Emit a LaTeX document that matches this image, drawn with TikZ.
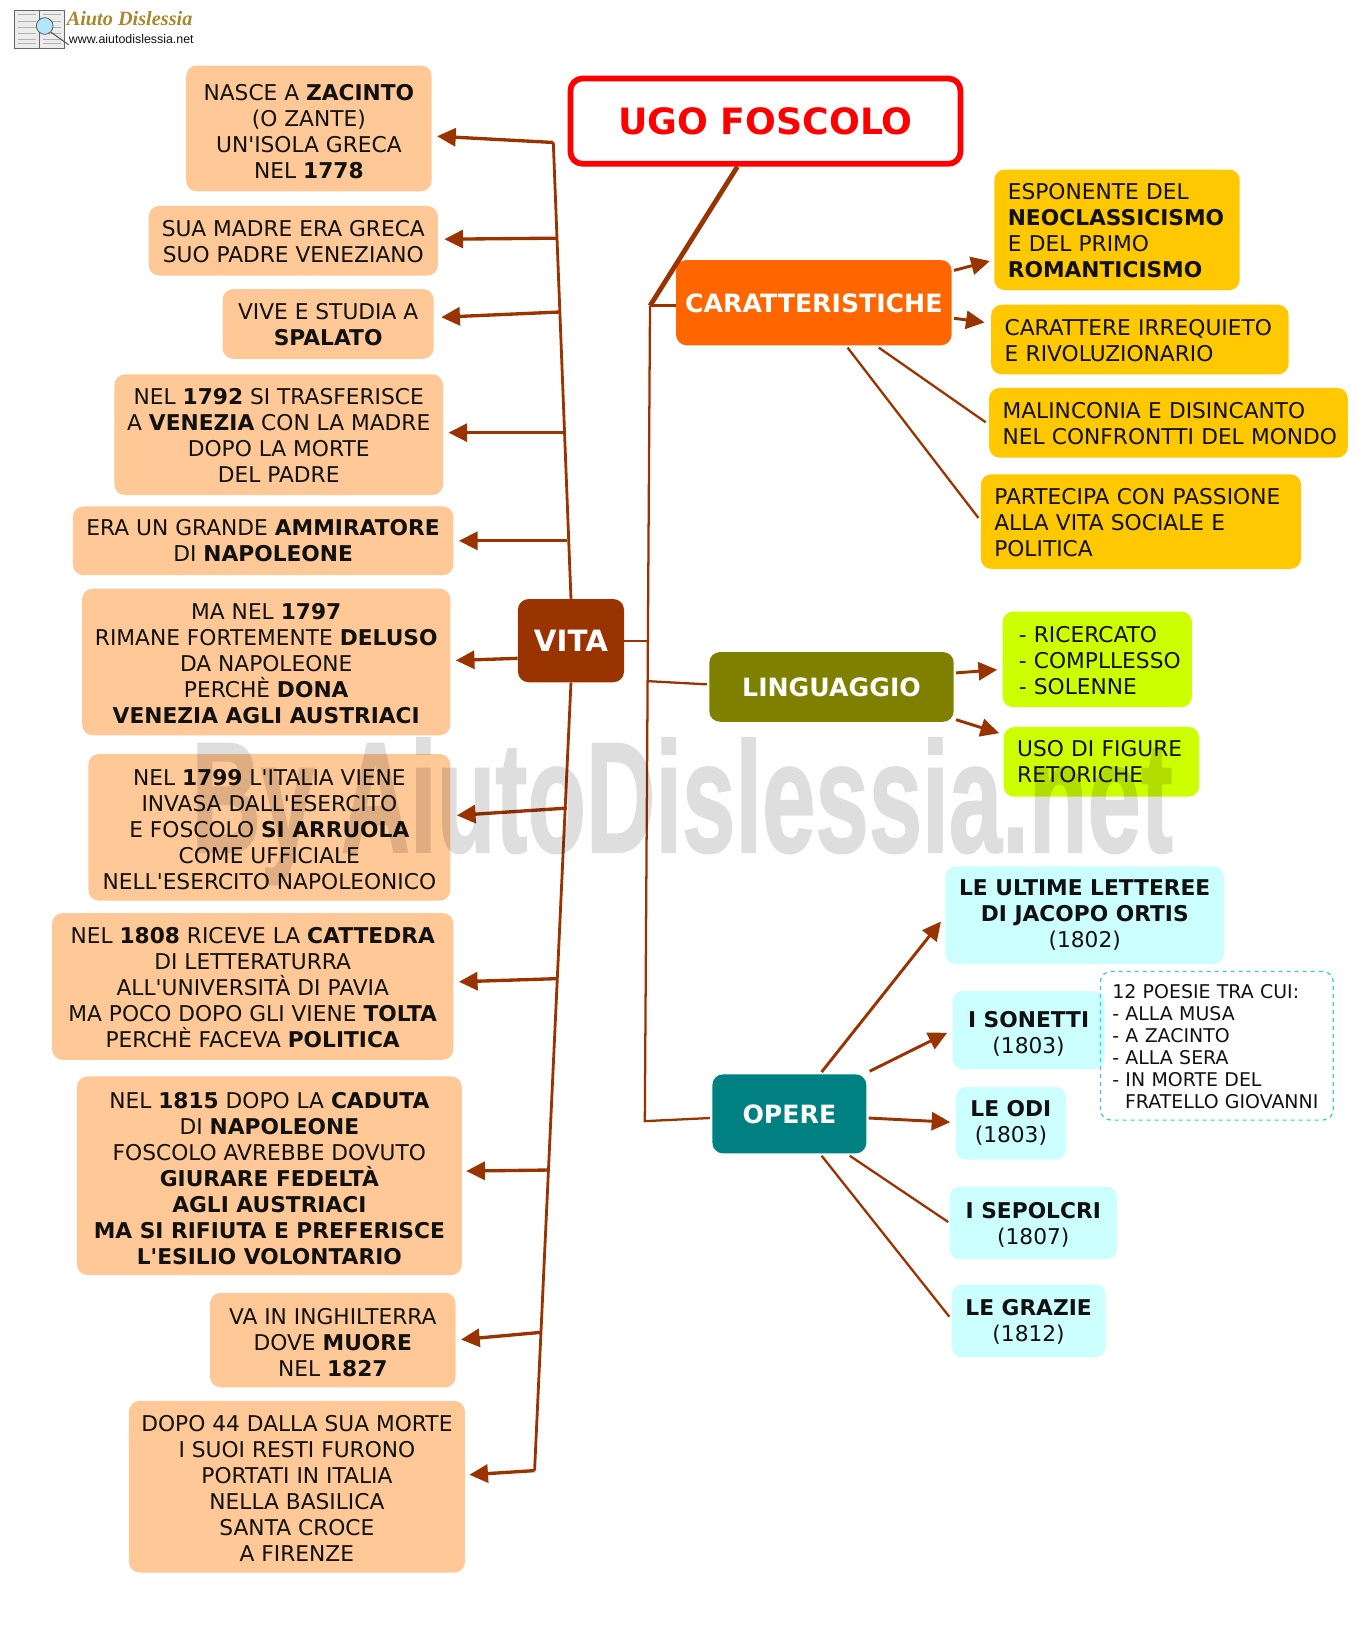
\documentclass[tikz,border=0pt]{standalone}
\usepackage{fontspec}
\setmainfont{DejaVu Sans}
\newfontfamily\wmfont[BoldFeatures={FakeBold=1.3}]{Liberation Sans}
\newfontfamily\logofont{Liberation Serif}
\newfontfamily\urlfont{Liberation Sans}
\usetikzlibrary{arrows.meta}
\newcommand{\qq}{\textquotesingle}
\newcommand{\dn}[1]{\rule{0pt}{\dimexpr 12pt+#1pt*2*78/100\relax}}
\definecolor{brn}{HTML}{993300}
\definecolor{peach}{HTML}{FFC896}
\definecolor{amber}{HTML}{FFC800}
\definecolor{lime}{HTML}{CCFF00}
\definecolor{aqua}{HTML}{CCFFFF}
\definecolor{orng}{HTML}{FF6600}
\definecolor{olv}{HTML}{808000}
\definecolor{teal2}{HTML}{008080}
\definecolor{inkc}{HTML}{111111}
\definecolor{dash2}{HTML}{33CCCC}
\definecolor{gold2}{HTML}{A8872F}
\tikzset{
 box/.style={rounded corners=8pt,text=inkc,align=center,font=\fontsize{16.3}{19.5}\selectfont},
 pbox/.style={box,fill=peach},
 ybox/.style={box,fill=amber,align=left,text width=\bw pt-20.3pt},
 lbox/.style={box,fill=lime,align=left,text width=\bw pt-20.3pt},
 cbox/.style={box,fill=aqua},
 head/.style={rounded corners=8pt,text=white,align=center,font=\fontsize{18.9}{22}\selectfont\bfseries},
 notebox/.style={draw=dash2,dashed,line width=0.9pt,rounded corners=8pt,align=left,text=inkc,text width=\bw pt-18pt,font=\fontsize{14.2}{16.6}\selectfont},
 titlebox/.style={draw=red,line width=4.3pt,fill=white,rounded corners=9pt,text=red,font=\fontsize{27.2}{30}\selectfont\bfseries},
 arr/.style={draw=brn,line width=2.5pt,-{Triangle[length=14pt,width=13.5pt]}},
 arrs/.style={draw=brn,line width=2.2pt,-{Triangle[length=14pt,width=13.5pt]}},
 link/.style={draw=brn,line width=1.7pt},
 trunk/.style={draw=brn,line width=2.1pt,line join=miter},
 thick link/.style={draw=brn,line width=3.6pt},
}
\newcommand{\bx}[7]{\pgfmathsetmacro\bw{(#3-#2)*0.78}\pgfmathsetmacro\bh{(#5-#4)*0.78}\node[#6,minimum width=\bw pt,minimum height=\bh pt,inner sep=0pt] (#1) at ({(#2+#3)/2},{(#4+#5)/2}) {#7};}
\begin{document}
\begin{tikzpicture}[x=0.78pt,y=-0.78pt]
\useasboundingbox (0,0) rectangle (1311.5,1569.2);
\fill[white] (0,0) rectangle (1311.5,1569.2);
% logo
\fill[gray!15] (14,10) rectangle (62,47);
\draw[gray!80!black,line width=.6pt] (14,10) rectangle (62,47) (38,10) -- (38,47);
\foreach \yy in {14,20,26,32,38,42}{\draw[gray!60,line width=.3pt] (17,\yy) -- (35,\yy);\draw[gray!60,line width=.3pt] (41,\yy) -- (59,\yy);}
\fill[cyan!30,draw=gray!70!black,line width=.6pt] (43,25) circle (8);
\draw[gray!70!black,line width=.8pt] (49,31) -- (66,43);
\node[inner sep=0pt,anchor=west,text=gold2] (logoa) at (64,18) {\logofont\fontsize{15.2}{16}\selectfont\bfseries\itshape Aiuto Dislessia};
\node[inner sep=0pt,anchor=west,text=inkc] (logob) at (66,38) {\urlfont\fontsize{9.3}{10}\selectfont www.aiutodislessia.net};
% left boxes
\bx{n1}{179}{415}{63}{184}{pbox}{\dn{3}NASCE A \textbf{ZACINTO}\\(O ZANTE)\\UN\qq ISOLA GRECA\\NEL \textbf{1778}}
\bx{n2}{143}{421}{198}{265}{pbox}{\dn{1}SUA MADRE ERA GRECA\\SUO PADRE VENEZIANO}
\bx{n3}{214}{417}{278}{345}{pbox}{\dn{1}VIVE E STUDIA A\\\textbf{SPALATO}}
\bx{n4}{110}{426}{360}{476}{pbox}{\dn{1}NEL \textbf{1792} SI TRASFERISCE\\A \textbf{VENEZIA} CON LA MADRE\\DOPO LA MORTE\\DEL PADRE}
\bx{n5}{70}{436}{487}{553}{pbox}{ERA UN GRANDE \textbf{AMMIRATORE}\\DI \textbf{NAPOLEONE}}
\bx{n6}{79}{433}{566}{707}{pbox}{\dn{2}MA NEL \textbf{1797}\\RIMANE FORTEMENTE \textbf{DELUSO}\\DA NAPOLEONE\\PERCHÈ \textbf{DONA}\\\textbf{VENEZIA AGLI AUSTRIACI}}
\bx{n7}{85}{433}{725}{866}{pbox}{\dn{2}NEL \textbf{1799} L\qq ITALIA VIENE\\INVASA DALL\qq ESERCITO\\E FOSCOLO \textbf{SI ARRUOLA}\\COME UFFICIALE\\NELL\qq ESERCITO NAPOLEONICO}
\bx{n8}{50}{436}{878}{1019}{pbox}{\dn{1}NEL \textbf{1808} RICEVE LA \textbf{CATTEDRA}\\DI LETTERATURRA\\ALL\qq UNIVERSITÀ DI PAVIA\\MA POCO DOPO GLI VIENE \textbf{TOLTA}\\PERCHÈ FACEVA \textbf{POLITICA}}
\bx{n9}{74}{444}{1035}{1226}{pbox}{\dn{3}NEL \textbf{1815} DOPO LA \textbf{CADUTA}\\DI \textbf{NAPOLEONE}\\FOSCOLO AVREBBE DOVUTO\\\textbf{GIURARE FEDELTÀ}\\\textbf{AGLI AUSTRIACI}\\\textbf{MA SI RIFIUTA E PREFERISCE}\\\textbf{L\qq ESILIO VOLONTARIO}}
\bx{n10}{202}{438}{1243}{1334}{pbox}{\dn{2}VA IN INGHILTERRA\\DOVE \textbf{MUORE}\\NEL \textbf{1827}}
\bx{n11}{124}{447}{1347}{1512}{pbox}{\dn{2}DOPO 44 DALLA SUA MORTE\\I SUOI RESTI FURONO\\PORTATI IN ITALIA\\NELLA BASILICA\\SANTA CROCE\\A FIRENZE}
% heads
\bx{title}{548.5}{923.5}{75.5}{157.5}{titlebox}{UGO FOSCOLO}
\bx{vita}{498}{600}{576}{656}{head,fill=brn,font=\fontsize{22}{24}\selectfont\bfseries}{VITA}
\bx{car}{650}{915}{250}{332}{head,fill=orng}{\rule{0pt}{15.4pt}CARATTERISTICHE}
\bx{lin}{682}{917}{627}{694}{head,fill=olv}{LINGUAGGIO}
\bx{ope}{685}{833}{1033}{1109}{head,fill=teal2}{\rule{0pt}{15.4pt}OPERE}
% right
\bx{y1}{956}{1192}{163}{279}{ybox}{\dn{1}ESPONENTE DEL\\\textbf{NEOCLASSICISMO}\\E DEL PRIMO\\\textbf{ROMANTICISMO}}
\bx{y2}{953}{1239}{293}{360}{ybox}{\dn{1}CARATTERE IRREQUIETO\\E RIVOLUZIONARIO}
\bx{y3}{951}{1296}{373}{440}{ybox}{\dn{1}MALINCONIA E DISINCANTO\\\mbox{NEL CONFRONTTI DEL MONDO}}
\bx{y4}{943}{1251}{456}{547}{ybox}{\dn{1}PARTECIPA CON PASSIONE\\ALLA VITA SOCIALE E\\POLITICA}
\bx{l1}{964}{1146}{588}{680}{lbox}{\dn{1}\mbox{\hspace*{2pt}- RICERCATO}\\\mbox{\hspace*{2pt}- COMPLLESSO}\\\mbox{\hspace*{2pt}- SOLENNE}}
\bx{l2}{965}{1153}{699}{766}{lbox}{USO DI FIGURE\\RETORICHE}
\bx{c1}{909}{1177}{833}{927}{cbox}{\textbf{LE ULTIME LETTEREE}\\\textbf{DI JACOPO ORTIS}\\(1802)}
\bx{c2}{916}{1062}{953}{1028}{cbox}{\dn{4}\textbf{I SONETTI}\\(1803)}
\bx{c3}{919}{1025}{1045}{1115}{cbox}{\textbf{LE ODI}\\(1803)}
\bx{c4}{913}{1074}{1141}{1211}{cbox}{\dn{2}\textbf{I SEPOLCRI}\\(1807)}
\bx{c5}{915}{1063}{1235}{1305}{cbox}{\dn{1}\textbf{LE GRAZIE}\\(1812)}
\bx{note}{1058}{1282}{934}{1077}{notebox}{\dn{0}12 POESIE TRA CUI:\\- ALLA MUSA\\- A ZACINTO\\- ALLA SERA\\- IN MORTE DEL\\\hspace*{9.5pt}FRATELLO GIOVANNI}
% junctions
\coordinate (vt) at (532,137);
\coordinate (vb) at (514,1414);
\coordinate (j2) at (535,229);
\coordinate (j3) at (538,300);
\coordinate (j4) at (541,416);
\coordinate (j5) at (545,520);
\coordinate (j7) at (545,777);
\coordinate (j8) at (535,941);
\coordinate (j9) at (527,1125);
\coordinate (j10) at (521,1281);
\coordinate (tt) at (625,294);
\coordinate (tb) at (620,1078);
\coordinate (tv) at (622,616);
\coordinate (tl) at (624,655);
% connectors left
\draw[trunk] (vita.north) -- (vt);
\draw[trunk] (vita.south) -- (vb);
\draw[arr] (vt) -- ([shift={(5,7.5)}]n1.east);
\draw[arr] (j2) -- ([shift={(6,-1.5)}]n2.east);
\draw[arr] (j3) -- ([shift={(7,-6.5)}]n3.east);
\draw[arr] (j4) -- ([shift={(5,-2)}]n4.east);
\draw[arr] (j5) -- ([shift={(5,0)}]n5.east);
\draw[arr] ([shift={(0,17)}]vita.west) -- ([shift={(5,-1.5)}]n6.east);
\draw[arr] (j7) -- ([shift={(6,-11.5)}]n7.east);
\draw[arr] (j8) -- ([shift={(5,-4.5)}]n8.east);
\draw[arr] (j9) -- ([shift={(4,-4.5)}]n9.east);
\draw[arr] (j10) -- ([shift={(5,-0.5)}]n10.east);
\draw[arr] (vb) -- ([shift={(4,-11.5)}]n11.east);
% trunk right
\draw[thick link] ([shift={(-27,0)}]title.south) -- (tt);
\draw[link,line width=2.4pt] ([shift={(0,3)}]car.west) -- (tt);
\draw[link] (tt) -- (tb) -- ([shift={(-2,4)}]ope.west);
\draw[link] (vita.east) -- (tv);
\draw[link] (tl) -- ([shift={(-2,-2.5)}]lin.west);
% right connectors
\draw[arrs] ([shift={(2,-31)}]car.east) -- ([shift={(-4,30)}]y1.west);
\draw[arrs] ([shift={(2,15)}]car.east) -- ([shift={(-6,-16.5)}]y2.west);
\draw[link] ([shift={(62.5,2)}]car.south) -- ([shift={(-3,-0.5)}]y3.west);
\draw[link] ([shift={(32.5,2)}]car.south) -- ([shift={(-2,-3.5)}]y4.west);
\draw[arrs] ([shift={(2,-13.5)}]lin.east) -- ([shift={(-5,10)}]l1.west);
\draw[arrs] ([shift={(2,31.5)}]lin.east) -- ([shift={(-4,-27.5)}]l2.west);
\draw[arrs] ([shift={(31,-2)}]ope.north) -- ([shift={(-4,6)}]c1.west);
\draw[arrs] ([shift={(3,-41)}]ope.east) -- ([shift={(-5,2.5)}]c2.west);
\draw[arrs] ([shift={(2,4)}]ope.east) -- ([shift={(-5,-1)}]c3.west);
\draw[link] ([shift={(58,2)}]ope.south) -- ([shift={(-1,-1)}]c4.west);
\draw[link] ([shift={(31,2)}]ope.south) -- ([shift={(-2,-4)}]c5.west);
% watermark
\begin{scope}[transparency group,opacity=0.13]
\node[inner sep=0pt,text=black,xscale=0.61,transform shape,anchor=center] (wm) at (656,780) {\wmfont\bfseries\fontsize{118}{120}\selectfont By AiutoDislessia.net};
\end{scope}
\end{tikzpicture}
\end{document}
